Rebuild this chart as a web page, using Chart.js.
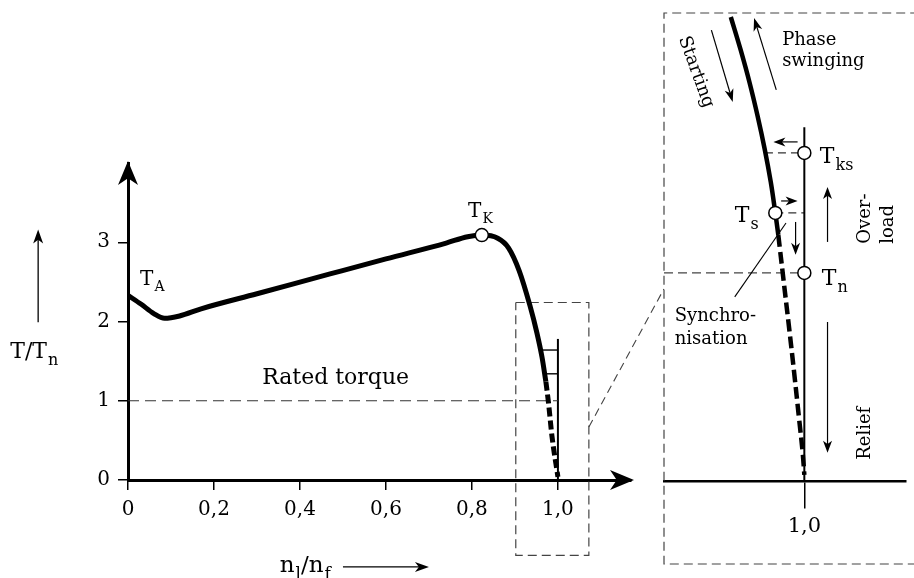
<!DOCTYPE html>
<html>
<head>
<meta charset="utf-8">
<script src="https://cdn.jsdelivr.net/npm/chart.js@4.4.1/dist/chart.umd.min.js"></script>
<style>
  html, body { margin: 0; padding: 0; background: #fff; }
  #wrap { position: relative; width: 914px; height: 578px; overflow: hidden; }
  #wrap canvas { position: absolute; left: 0; top: 0; }
</style>
</head>
<body>
<div id="wrap">
  <canvas id="mainChart" width="914" height="578"></canvas>
  <canvas id="zoomChart" width="914" height="578"></canvas>
</div>
<script>
'use strict';

// torque curve T/Tn over speed ratio nl/nf
let speedSolid = [0, 0.03, 0.06, 0.085, 0.12, 0.17, 0.3, 0.47, 0.6, 0.74, 0.79, 0.823, 0.86, 0.885, 0.91, 0.935, 0.951, 0.963, 0.972];
let torqueSolid = [2.33, 2.22, 2.1, 2.04, 2.07, 2.16, 2.35, 2.6, 2.79, 2.99, 3.07, 3.09, 3.05, 2.93, 2.64, 2.2, 1.86, 1.55, 1.24];
let speedDashed = [0.972, 0.978, 0.986, 1.0];
let torqueDashed = [1.24, 0.98, 0.56, 0.04];

let xTicks = [0, 0.2, 0.4, 0.6, 0.8, 1.0];
let xTickLabels = ['0', '0,2', '0,4', '0,6', '0,8', '1,0'];
let yTicks = [0, 1, 2, 3];
let yTickLabels = ['0', '1', '2', '3'];

let ratedTorque = 1;
let breakdownPoint = [0.823, 3.09];      // T_K
let markerTop = 1.78;                    // small vertical line at nl/nf = 1
let markerTorques = [1.64, 1.34];
let markerStarts = [0.964, 0.971];

// detail box (main chart) and the line leading to the enlarged view
let boxSpeed = [0.902, 1.072, 1.072, 0.902, 0.902];
let boxTorque = [2.24, 2.24, -0.95, -0.95, 2.24];
let leadSpeed = [1.072, 1.2465];
let leadTorque = [0.668, 2.41];

// enlarged view
let zoomSpeedSolid = [0.94865, 0.95554, 0.96182, 0.96736, 0.9723, 0.97655, 0.97973, 0.98182];
let zoomTorqueSolid = [2.2308, 2.0721, 1.9135, 1.7548, 1.5962, 1.4375, 1.2885, 1.1827];
let zoomSpeedDashed = [0.98182, 0.98547, 0.98953, 0.99291, 0.99642, 0.99885, 1.0];
let zoomTorqueDashed = [1.1827, 0.9663, 0.726, 0.519, 0.293, 0.135, 0.029];
let zoomTicks = [1.0];
let zoomTickLabels = ['1,0'];
let zoomLineTop = 1.70;
let Tks = [1.0, 1.577];
let Ts = [0.97973, 1.2885];
let Tn = [1.0, 1.0];
let TksCurve = 0.9725;
let zoomBoxSpeed = [1.09, 0.902, 0.902, 1.09];
let zoomBoxTorque = [2.25, 2.25, -0.40, -0.40];

const FONT = '"DejaVu Serif", serif';

function pts(xs, ys) {
  return xs.map((x, i) => ({ x: x, y: ys[i] }));
}

function lineSet(data, width, dash, color) {
  return {
    data: data,
    borderColor: color || '#000',
    borderWidth: width,
    borderDash: dash || [],
    pointRadius: 0,
    tension: 0,
    fill: false
  };
}

function circleSet(data) {
  return {
    data: data,
    order: -1,
    showLine: false,
    pointRadius: 6.5,
    pointBackgroundColor: '#fff',
    pointBorderColor: '#000',
    pointBorderWidth: 1.5
  };
}

function arrowHead(ctx, x, y, ang, len, half) {
  ctx.save();
  ctx.translate(x, y);
  ctx.rotate(ang);
  ctx.beginPath();
  ctx.moveTo(0, 0);
  ctx.lineTo(-len, -half);
  ctx.lineTo(-len * 0.72, 0);
  ctx.lineTo(-len, half);
  ctx.closePath();
  ctx.fill();
  ctx.restore();
}

function arrow(ctx, x1, y1, x2, y2, lw, len, half) {
  let ang = Math.atan2(y2 - y1, x2 - x1);
  ctx.lineWidth = lw;
  ctx.beginPath();
  ctx.moveTo(x1, y1);
  ctx.lineTo(x2 - Math.cos(ang) * len * 0.7, y2 - Math.sin(ang) * len * 0.7);
  ctx.stroke();
  arrowHead(ctx, x2, y2, ang, len, half);
}

// parts: [[text, isSubscript], ...]
function richText(ctx, parts, x, y, size) {
  let cx = x;
  parts.forEach(p => {
    let s = p[1] ? Math.round(size * 0.72) : size;
    ctx.font = s + 'px ' + FONT;
    ctx.fillText(p[0], cx, p[1] ? y + size * 0.3 : y);
    cx += ctx.measureText(p[0]).width + (p[1] ? 0 : 1);
  });
}

const mainLabels = {
  id: 'mainLabels',
  afterDraw(chart) {
    const ctx = chart.ctx;
    const area = chart.chartArea;
    const px = v => chart.scales.x.getPixelForValue(v);
    const py = v => chart.scales.y.getPixelForValue(v);
    ctx.save();
    ctx.fillStyle = '#000';
    ctx.strokeStyle = '#000';
    ctx.textAlign = 'left';
    ctx.textBaseline = 'alphabetic';

    // axis arrow heads
    arrowHead(ctx, area.right + 3, py(0), 0, 24, 10);
    arrowHead(ctx, px(0), area.top - 2, -Math.PI / 2, 24, 10);

    // axis names
    richText(ctx, [['T/T', false], ['n', true]], px(-0.274), py(1.54), 22);
    arrow(ctx, px(-0.209), py(1.99), px(-0.209), py(3.16), 1.3, 14, 5);
    richText(ctx, [['n', false], ['l', true], ['/n', false], ['f', true]], px(0.353), py(-1.16), 23);
    arrow(ctx, px(0.5), py(-1.097), px(0.7), py(-1.097), 1.3, 14, 5);

    richText(ctx, [['T', false], ['A', true]], px(0.028), py(2.46), 20);
    richText(ctx, [['T', false], ['K', true]], px(0.791), py(3.32), 20);

    ctx.font = '22px ' + FONT;
    ctx.fillText('Rated torque', px(0.312), py(1.21));
    ctx.restore();
  }
};

const zoomLabels = {
  id: 'zoomLabels',
  afterDraw(chart) {
    const ctx = chart.ctx;
    const px = v => chart.scales.x.getPixelForValue(v);
    const py = v => chart.scales.y.getPixelForValue(v);
    ctx.save();
    ctx.fillStyle = '#000';
    ctx.strokeStyle = '#000';
    ctx.textAlign = 'left';
    ctx.textBaseline = 'alphabetic';

    // arrows
    arrow(ctx, px(0.9804), py(1.88), px(0.9649), py(2.226), 1.2, 13, 4.5);   // phase swinging
    arrow(ctx, px(0.9351), py(2.168), px(0.95), py(1.822), 1.2, 13, 4.5);    // starting
    arrow(ctx, px(0.9953), py(1.63), px(0.9784), py(1.63), 1.2, 12, 4.5);
    arrow(ctx, px(0.9838), py(1.346), px(0.9953), py(1.346), 1.2, 12, 4.5);
    arrow(ctx, px(0.9939), py(1.245), px(0.9939), py(1.087), 1.2, 12, 4.5);
    arrow(ctx, px(1.0162), py(1.149), px(1.0162), py(1.413), 1.2, 12, 4.5); // overload
    arrow(ctx, px(1.0162), py(0.764), px(1.0162), py(0.135), 1.2, 12, 4.5); // relief

    // leader for synchronisation
    ctx.lineWidth = 1.1;
    ctx.beginPath();
    ctx.moveTo(px(0.9514), py(0.885));
    ctx.lineTo(px(0.9872), py(1.24));
    ctx.stroke();

    richText(ctx, [['T', false], ['ks', true]], px(1.0108), py(1.529), 22);
    richText(ctx, [['T', false], ['s', true]], px(0.9514), py(1.245), 22);
    richText(ctx, [['T', false], ['n', true]], px(1.0122), py(0.942), 22);

    ctx.font = '18px ' + FONT;
    ctx.fillText('Phase', px(0.9845), py(2.096));
    ctx.fillText('swinging', px(0.9845), py(1.995));
    ctx.fillText('Synchro-', px(0.9095), py(0.769));
    ctx.fillText('nisation', px(0.9095), py(0.659));

    ctx.save();
    ctx.translate(px(0.9243), py(1.966));
    ctx.rotate(70 * Math.PI / 180);
    ctx.textAlign = 'center';
    ctx.textBaseline = 'middle';
    ctx.fillText('Starting', 0, 0);
    ctx.restore();

    ctx.save();
    ctx.translate(px(1.0459), py(1.14));
    ctx.rotate(-Math.PI / 2);
    ctx.fillText('Over-', 0, 0);
    ctx.fillText('load', 0, 23);
    ctx.restore();

    ctx.save();
    ctx.translate(px(1.0459), py(0.101));
    ctx.rotate(-Math.PI / 2);
    ctx.fillText('Relief', 0, 0);
    ctx.restore();
    ctx.restore();
  }
};

let mainDatasets = [
  Object.assign(lineSet(pts(speedSolid, torqueSolid), 5), { cubicInterpolationMode: 'monotone' }),
  Object.assign(lineSet(pts(speedDashed, torqueDashed), 5, [9, 4]), { cubicInterpolationMode: 'monotone' }),
  lineSet([{ x: 0, y: ratedTorque }, { x: 1.0, y: ratedTorque }], 1.2, [11, 6], '#333'),
  lineSet([{ x: 1.0, y: 0 }, { x: 1.0, y: markerTop }], 2),
  Object.assign(lineSet(pts(boxSpeed, boxTorque), 1.2, [9, 5], '#444'), { clip: false }),
  Object.assign(lineSet(pts(leadSpeed, leadTorque), 1.1, [8, 5], '#444'), { clip: false }),
  circleSet([{ x: breakdownPoint[0], y: breakdownPoint[1] }])
];
for (let i = 0; i < markerTorques.length; i++) {
  mainDatasets.push(lineSet([{ x: markerStarts[i], y: markerTorques[i] }, { x: 1.0, y: markerTorques[i] }], 1.4));
}

new Chart(document.getElementById('mainChart'), {
  type: 'line',
  data: { datasets: mainDatasets },
  options: {
    responsive: false,
    animation: false,
    events: [],
    layout: { padding: { left: 68, right: 283, top: 163, bottom: 58 } },
    plugins: { legend: { display: false }, tooltip: { enabled: false } },
    scales: {
      x: {
        type: 'linear',
        min: 0,
        max: 1.17,
        afterBuildTicks: s => { s.ticks = xTicks.map(v => ({ value: v })); },
        afterFit: s => { s.height = 40; },
        ticks: {
          autoSkip: false,
          maxRotation: 0,
          padding: 8,
          color: '#000',
          font: { family: FONT, size: 20 },
          callback: (v, i) => xTickLabels[i]
        },
        grid: { display: true, drawOnChartArea: false, drawTicks: true, tickLength: 10, color: '#000', lineWidth: 1.5 },
        border: { display: true, color: '#000', width: 3 }
      },
      y: {
        type: 'linear',
        min: 0,
        max: 4.0,
        afterBuildTicks: s => { s.ticks = yTicks.map(v => ({ value: v })); },
        afterFit: s => { s.width = 60; },
        ticks: {
          autoSkip: false,
          padding: 8,
          color: '#000',
          font: { family: FONT, size: 20 },
          callback: (v, i) => yTickLabels[i]
        },
        grid: { display: true, drawOnChartArea: false, drawTicks: true, tickLength: 10, color: '#000', lineWidth: 1.5 },
        border: { display: true, color: '#000', width: 3 }
      }
    }
  },
  plugins: [mainLabels]
});

let zoomDatasets = [
  Object.assign(lineSet(pts(zoomSpeedSolid, zoomTorqueSolid), 4.5), { tension: 0.4 }),
  Object.assign(lineSet(pts(zoomSpeedDashed, zoomTorqueDashed), 4.5, [12, 5]), { tension: 0.4 }),
  lineSet([{ x: 1.0, y: 0 }, { x: 1.0, y: zoomLineTop }], 2),
  lineSet([{ x: TksCurve, y: Tks[1] }, { x: Tks[0], y: Tks[1] }], 1.2, [8, 5], '#333'),
  lineSet([{ x: Ts[0], y: Ts[1] }, { x: 1.0, y: Ts[1] }], 1.2, [8, 5], '#333'),
  Object.assign(lineSet([{ x: zoomBoxSpeed[1], y: Tn[1] }, { x: Tn[0], y: Tn[1] }], 1.2, [9, 5], '#444'), { clip: false }),
  Object.assign(lineSet(pts(zoomBoxSpeed, zoomBoxTorque), 1.2, [9, 5], '#444'), { clip: false }),
  circleSet([{ x: Tks[0], y: Tks[1] }, { x: Ts[0], y: Ts[1] }, { x: Tn[0], y: Tn[1] }])
];

new Chart(document.getElementById('zoomChart'), {
  type: 'line',
  data: { datasets: zoomDatasets },
  options: {
    responsive: false,
    animation: false,
    events: [],
    layout: { padding: { left: 664, right: 0, top: 13, bottom: 14 } },
    plugins: { legend: { display: false }, tooltip: { enabled: false } },
    scales: {
      x: {
        type: 'linear',
        min: 0.902,
        max: 1.071,
        position: { y: 0 },
        afterBuildTicks: s => { s.ticks = zoomTicks.map(v => ({ value: v })); },
        afterFit: s => { s.height = 0; },
        ticks: {
          autoSkip: false,
          maxRotation: 0,
          padding: 7,
          color: '#000',
          font: { family: FONT, size: 21 },
          callback: (v, i) => zoomTickLabels[i]
        },
        grid: { display: true, drawOnChartArea: false, drawTicks: true, tickLength: 26, color: '#000', lineWidth: 1.5 },
        border: { display: true, color: '#000', width: 2.5 }
      },
      y: {
        type: 'linear',
        min: -0.40,
        max: 2.25,
        display: false
      }
    }
  },
  plugins: [zoomLabels]
});
</script>
</body>
</html>
